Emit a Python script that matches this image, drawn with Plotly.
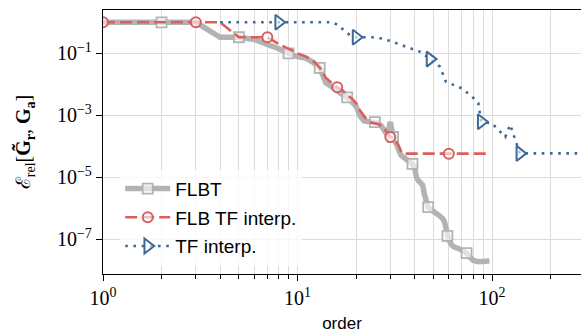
import plotly.graph_objects as go

# ---------------- data ----------------
flbt_order = [1, 2, 3, 4, 5, 6, 7, 8, 9, 10, 11, 12, 13, 14, 15, 16, 17, 18, 19, 20,
              21, 22, 23, 24, 25, 26, 27, 28, 29, 30, 31, 32, 33, 34, 35, 36, 37, 38, 39, 40,
              41, 42, 43, 44, 45, 46, 47, 48, 50, 52, 54, 56, 57, 58, 59, 60, 62, 64, 68, 72,
              74, 76, 78, 80, 85, 90, 97]
flbt_err = [1.0, 1.0, 1.0, 0.33, 0.33, 0.28, 0.2, 0.14, 0.1, 0.078, 0.07, 0.052, 0.034, 0.011, 0.0083,
            0.0058, 0.0047, 0.0038, 0.0029, 0.002, 9.5e-4, 6.6e-4, 6.3e-4, 6.2e-4, 6.0e-4, 5.5e-4,
            4.5e-4, 2.9e-4, 2.3e-4, 6.1e-4, 2.0e-4, 1.3e-4, 7.6e-5, 5.2e-5, 4.5e-5, 3.9e-5, 3.6e-5,
            3.1e-5, 2.7e-5, 2.0e-5, 9.5e-6, 7.6e-6, 6.6e-6, 5.6e-6, 2.7e-6, 1.6e-6, 1.1e-6, 9.5e-7,
            8.1e-7, 7.1e-7, 5.6e-7, 4.5e-7, 3.6e-7, 2.3e-7, 1.3e-7, 9.5e-8, 6.6e-8, 5.6e-8, 4.9e-8,
            4.2e-8, 3.6e-8, 2.9e-8, 2.3e-8, 2.1e-8, 1.9e-8, 1.9e-8, 2.0e-8]
flbt_marks = [2, 5, 9, 13, 18, 25, 31, 39, 47, 59, 74]

flb_order = [1, 2, 3, 4, 5, 6, 7, 8, 9, 10, 11, 12, 13, 14, 15, 16, 17, 18, 19, 20,
             21, 22, 23, 24, 25, 26, 27, 28, 29, 30, 31, 32, 33, 34, 35, 60, 96]
flb_err = [1.0, 1.0, 1.0, 1.0, 0.33, 0.33, 0.33, 0.2, 0.14, 0.1, 0.08, 0.058, 0.035, 0.016, 0.011,
           0.008, 0.0065, 0.0045, 0.0035, 0.0025, 0.0014, 9.0e-4, 6.5e-4, 5.8e-4, 5.5e-4, 5.3e-4,
           4.5e-4, 3.5e-4, 2.8e-4, 2.0e-4, 1.9e-4, 1.5e-4, 1.1e-4, 7.0e-5, 5.8e-5, 5.8e-5, 5.8e-5]
flb_marks = [1, 3, 7, 16, 30, 60]

tf_order = [4, 8, 15, 16, 17, 18, 19, 20, 24, 27, 30, 35, 40, 43, 48, 54, 58, 70, 79, 85, 88,
            100, 117, 124, 139, 300]
tf_err = [1.0, 1.0, 1.0, 0.85, 0.6, 0.45, 0.36, 0.33, 0.33, 0.3, 0.25, 0.18, 0.13, 0.11, 0.065,
          0.037, 0.012, 0.0074, 0.004, 0.0025, 6.2e-4, 5.5e-4, 2.0e-4, 5.0e-4, 5.9e-5, 5.9e-5]
tf_marks = [8, 20, 48, 88, 139]

names = ["FLBT", "FLB TF interp.", "TF interp."]
x_ticks = [1, 10, 100]
x_ticktext = ["10<sup>0</sup>", "10<sup>1</sup>", "10<sup>2</sup>"]
y_ticks = [1e-1, 1e-3, 1e-5, 1e-7]
y_ticktext = ["10<sup>\u22121</sup>", "10<sup>\u22123</sup>", "10<sup>\u22125</sup>", "10<sup>\u22127</sup>"]

# ---------------- styles ----------------
GRAY = "#b3b3b3"
RED = "#d95f5f"
BLUE = "#3d6996"
FILL = "rgba(255,255,255,0.6)"

series = [
    dict(x=flbt_order, y=flbt_err, m=flbt_marks, name=names[0], color=GRAY, width=5.5, dash="solid",
         symbol="square", size=10, mlw=1.8),
    dict(x=flb_order, y=flb_err, m=flb_marks, name=names[1], color=RED, width=2.6, dash="12px,5px",
         symbol="circle", size=10, mlw=2),
    dict(x=tf_order, y=tf_err, m=tf_marks, name=names[2], color=BLUE, width=2.6, dash="2.6px,5.6px",
         symbol="triangle-right", size=13, mlw=2),
]

fig = go.Figure()
for i, s in enumerate(series):
    lookup = dict(zip(s["x"], s["y"]))
    fig.add_trace(go.Scatter(x=s["x"], y=s["y"], mode="lines", showlegend=False,
                             line=dict(color=s["color"], width=s["width"], dash=s["dash"]),
                             hoverinfo="skip"))
    fig.add_trace(go.Scatter(x=s["m"], y=[lookup[v] for v in s["m"]], mode="markers", showlegend=False,
                             marker=dict(symbol=s["symbol"], size=s["size"], color=FILL,
                                         line=dict(color=s["color"], width=s["mlw"]))))
    fig.add_trace(go.Scatter(x=[None], y=[None], mode="lines+markers", name=s["name"],
                             legendgroup=f"g{i}",
                             line=dict(color=s["color"], width=s["width"], dash=s["dash"]),
                             marker=dict(symbol=s["symbol"], size=s["size"], color=FILL,
                                         line=dict(color=s["color"], width=s["mlw"]))))

minor_x = [m * 10 ** e for e in range(0, 3) for m in range(2, 10)]

fig.update_layout(
    width=581, height=333,
    margin=dict(l=103, r=0, t=10, b=59),
    plot_bgcolor="white", paper_bgcolor="white",
    showlegend=True,
    legend=dict(x=0.036, y=0.395, xanchor="left", yanchor="top",
                bgcolor="rgba(255,255,255,0.8)", borderwidth=0,
                font=dict(family="Liberation Sans", size=19, color="black"),
                tracegroupgap=1, itemwidth=45, traceorder="grouped"),
    xaxis=dict(type="log", range=[0, 2.4576],
               tickmode="array", tickvals=x_ticks, ticktext=x_ticktext,
               ticks="outside", ticklen=6, tickwidth=1.2, tickcolor="black",
               showline=True, linecolor="black", linewidth=1.3, mirror=True,
               showgrid=True, gridcolor="#dcdcdc", gridwidth=1.2,
               zeroline=False,
               tickfont=dict(family="Liberation Serif", size=20, color="black"),
               title=dict(text="order", font=dict(family="Liberation Sans", size=17, color="black"),
                          standoff=9),
               minor=dict(tickmode="array", tickvals=minor_x, ticks="outside", ticklen=3.5,
                          tickwidth=1, tickcolor="black", showgrid=True,
                          gridcolor="#dcdcdc", gridwidth=1.2)),
    yaxis=dict(type="log", range=[-8.119, 0.397],
               tickmode="array", tickvals=y_ticks, ticktext=y_ticktext,
               ticks="outside", ticklen=6, tickwidth=1.2, tickcolor="black",
               showline=True, linecolor="black", linewidth=1.3, mirror=False,
               showgrid=True, gridcolor="#dcdcdc", gridwidth=1.2,
               zeroline=False,
               tickfont=dict(family="Liberation Serif", size=20, color="black"),
               title=dict(text="\u2130<sub>rel</sub>[<b>G\u0303<sub>r</sub></b>, <b>G<sub>a</sub></b>]",
                          font=dict(family="Liberation Serif", size=20, color="black"),
                          standoff=20)),
)

fig.write_html("out.html")
